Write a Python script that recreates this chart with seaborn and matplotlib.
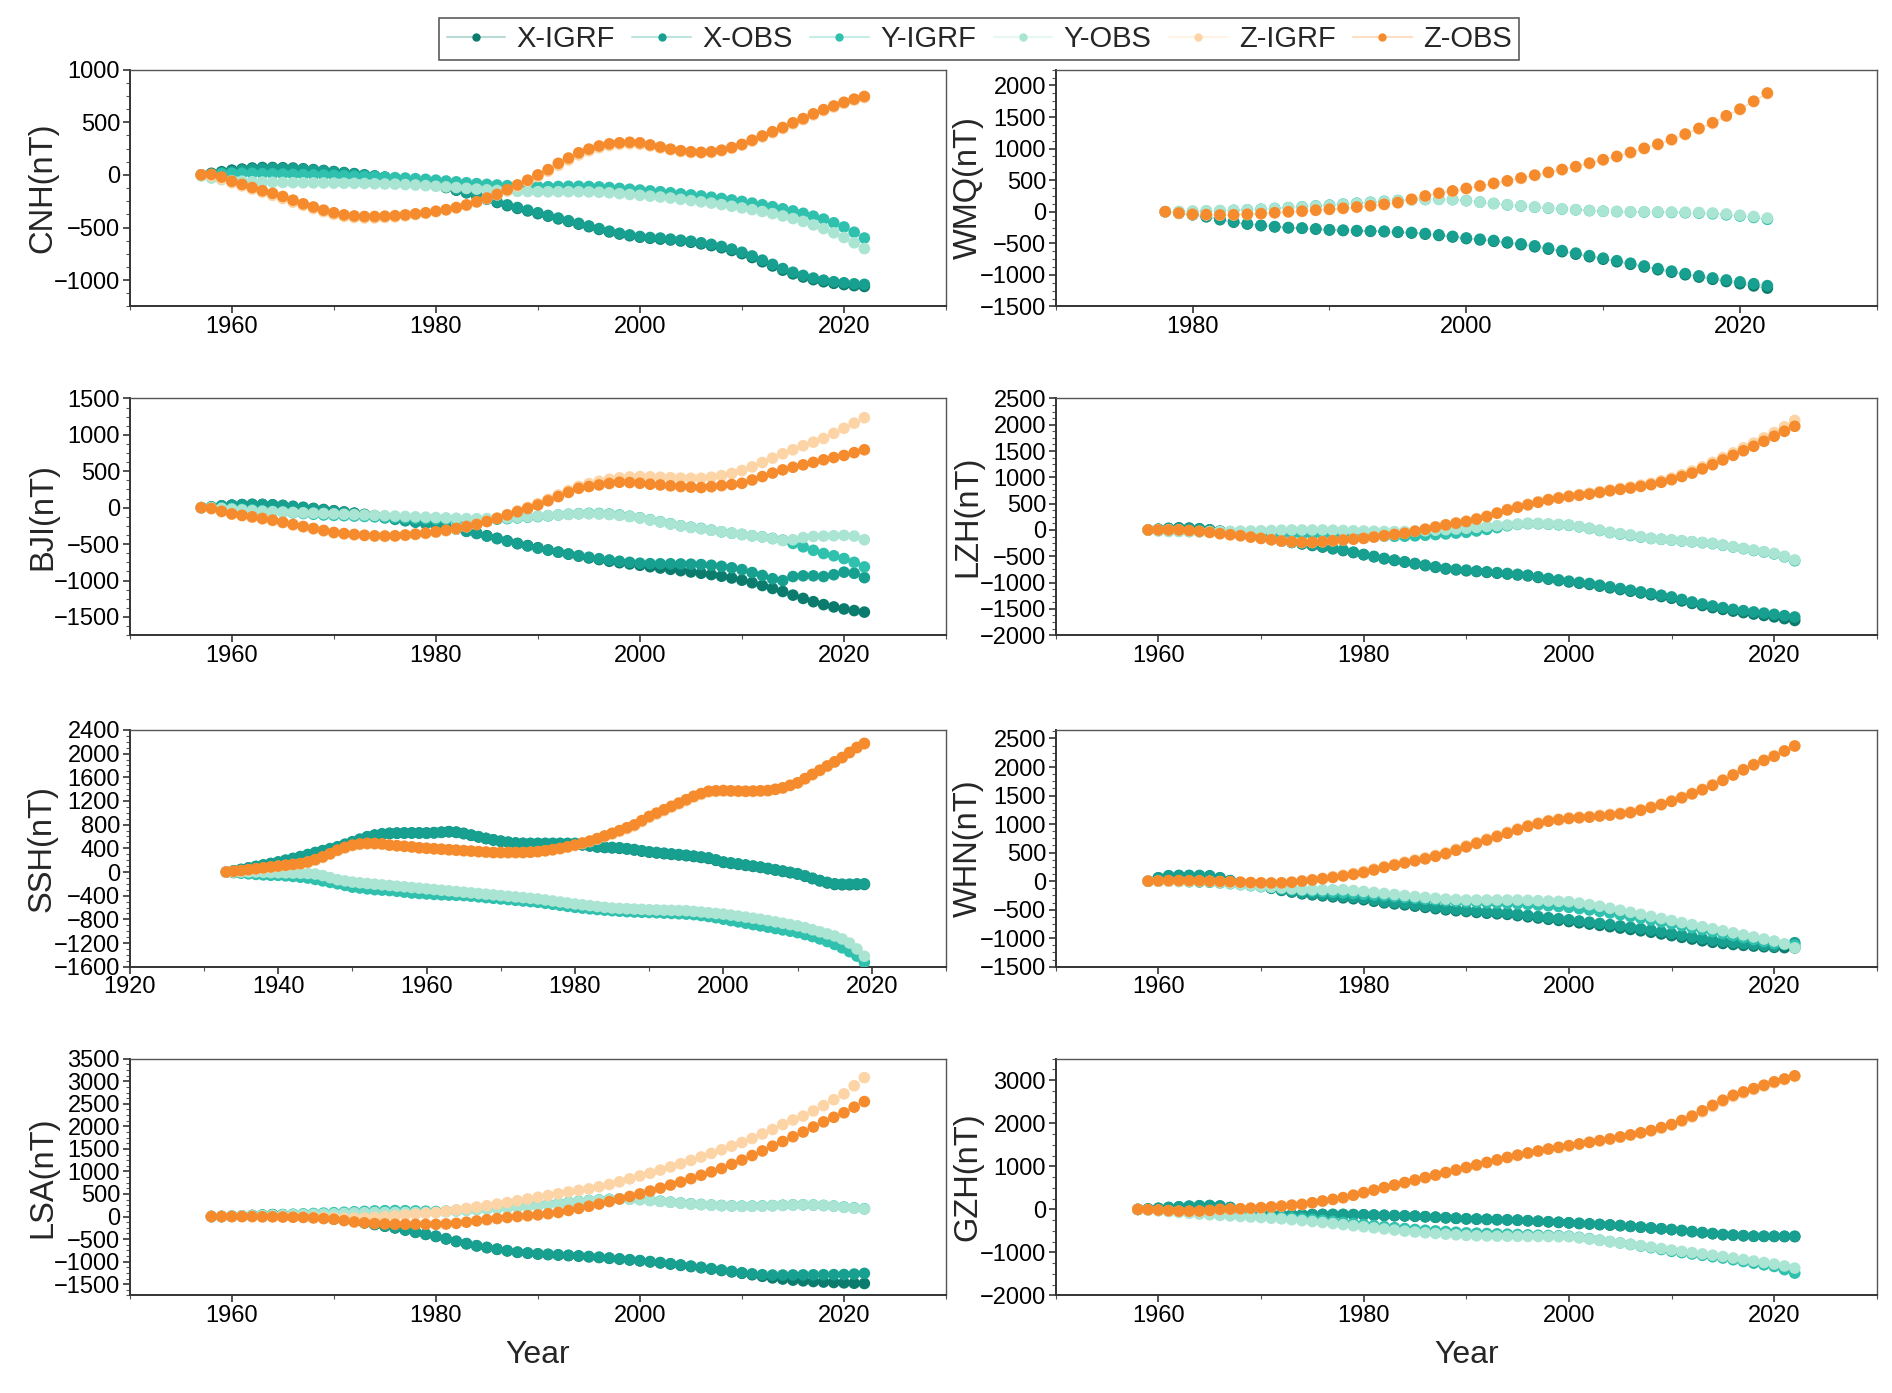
import numpy as np
import pandas as pd
import matplotlib
matplotlib.use("Agg")
import matplotlib.pyplot as plt
import matplotlib.colors as mcolors
from matplotlib.lines import Line2D
from matplotlib.ticker import MultipleLocator, AutoMinorLocator
import seaborn as sns

# ---------------- data ----------------
SERIES = ["X-IGRF", "X-OBS", "Y-IGRF", "Y-OBS", "Z-IGRF", "Z-OBS"]
COLORS = ["#0b7b6d", "#17a08f", "#2fc1ae", "#a9e5d2", "#fdd4a6", "#f58b2c"]
STATIONS = ["CNH", "WMQ", "BJI", "LZH", "SSH", "WHN", "LSA", "GZH"]
START_YEARS = [1957, 1978, 1957, 1959, 1933, 1959, 1958, 1958]

# CNH 1957-2022
CNH_X_IGRF = [0, 15, 30, 45, 55, 65, 70, 70, 68, 65, 58, 50, 42, 32, 22, 12, 0, -10, -22, -35,
              -50, -65, -82, -100, -120, -145, -170, -200, -230, -262, -292, -318, -342, -368, -392, -418, -442, -468, -492, -518,
              -542, -562, -578, -592, -602, -610, -618, -628, -640, -655, -672, -692, -718, -748, -785, -825, -865, -905, -940, -970,
              -995, -1015, -1030, -1042, -1052, -1060]
CNH_X_OBS = [0, 10, 20, 30, 45, 55, 60, 62, 60, 58, 52, 45, 38, 28, 18, 8, -2, -12, -22, -35,
             -48, -62, -78, -95, -115, -140, -165, -195, -225, -255, -285, -310, -335, -360, -385, -410, -435, -460, -485, -510,
             -535, -555, -570, -585, -595, -600, -610, -620, -630, -645, -660, -680, -705, -735, -770, -810, -850, -890, -925, -955,
             -980, -1000, -1015, -1025, -1035, -1040]
CNH_Y_IGRF = [0, 5, 10, 15, 15, 15, 12, 10, 8, 5, 2, 0, -2, -5, -8, -12, -15, -18, -22, -26,
              -30, -36, -42, -50, -58, -66, -75, -83, -90, -96, -102, -106, -110, -112, -112, -110, -108, -108, -110, -114,
              -120, -128, -136, -144, -152, -160, -170, -180, -190, -200, -212, -224, -238, -252, -268, -284, -302, -322, -342, -365,
              -392, -420, -455, -495, -545, -600]
CNH_Y_OBS = [-10, -30, -45, -55, -60, -65, -68, -70, -72, -74, -75, -76, -77, -78, -79, -80, -82, -84, -86, -88,
             -92, -96, -102, -108, -114, -120, -128, -135, -142, -148, -152, -156, -158, -160, -160, -160, -160, -160, -162, -165,
             -170, -178, -186, -194, -202, -210, -220, -232, -244, -256, -268, -282, -298, -314, -330, -348, -368, -390, -415, -442,
             -475, -510, -550, -595, -645, -700]
CNH_Z_IGRF = [0, -10, -40, -75, -105, -135, -165, -195, -225, -260, -290, -320, -350, -375, -395, -405, -410, -410, -405, -400,
              -390, -378, -365, -350, -335, -315, -290, -260, -225, -190, -150, -105, -60, -15, 35, 90, 140, 190, 228, 258,
              278, 290, 295, 290, 275, 255, 238, 222, 212, 208, 212, 228, 252, 282, 320, 360, 400, 440, 485, 525,
              570, 610, 645, 680, 710, 735]
CNH_Z_OBS = [0, 5, -20, -60, -90, -120, -150, -175, -205, -240, -275, -305, -335, -360, -380, -390, -395, -395, -392, -388,
             -380, -370, -360, -345, -330, -310, -285, -255, -220, -185, -140, -95, -50, 0, 50, 110, 160, 210, 245, 275,
             295, 305, 310, 305, 285, 265, 245, 230, 220, 215, 220, 235, 260, 290, 330, 370, 410, 450, 495, 535,
             580, 620, 655, 690, 720, 745]

# WMQ 1978-2022
WMQ_X_IGRF = [0, -25, -50, -80, -125, -165, -195, -220, -240, -255, -262, -276, -290, -298, -305, -310, -316, -326, -338, -355,
              -375, -400, -425, -446, -468, -494, -522, -555, -592, -632, -672, -712, -752, -792, -832, -875, -918, -958, -998, -1035,
              -1070, -1105, -1140, -1175, -1210]
WMQ_X_OBS = [0, -20, -40, -70, -120, -160, -190, -215, -235, -250, -258, -272, -285, -292, -298, -303, -308, -318, -328, -345,
             -365, -390, -415, -435, -455, -480, -508, -540, -575, -615, -655, -695, -735, -775, -815, -858, -900, -940, -980, -1015,
             -1048, -1080, -1110, -1140, -1170]
WMQ_Y_IGRF = [0, 0, 5, 10, 15, 22, 30, 40, 52, 65, 78, 92, 105, 120, 135, 150, 165, 178, 188, 195,
              198, 192, 176, 152, 130, 108, 90, 72, 56, 42, 30, 18, 8, 2, -3, -5, -8, -12, -16, -22,
              -32, -48, -68, -90, -120]
WMQ_Y_OBS = [0, 5, 10, 15, 20, 25, 30, 40, 50, 62, 75, 88, 100, 115, 130, 145, 160, 175, 185, 192,
             195, 190, 175, 150, 130, 110, 92, 75, 60, 45, 32, 20, 10, 5, 0, 0, -2, -5, -8, -12,
             -20, -35, -55, -75, -100]
WMQ_Z_IGRF = [0, -25, -45, -52, -55, -52, -45, -35, -20, -5, 5, 20, 35, 50, 70, 90, 112, 140, 190, 242,
              286, 322, 362, 402, 442, 482, 526, 572, 617, 662, 708, 762, 816, 868, 930, 995, 1060, 1135, 1220, 1310,
              1400, 1510, 1615, 1740, 1870]
WMQ_Z_OBS = [0, -20, -40, -45, -50, -48, -40, -30, -15, 0, 10, 25, 40, 55, 75, 95, 118, 145, 198, 250,
             294, 330, 370, 410, 450, 490, 535, 580, 625, 670, 715, 770, 825, 877, 940, 1005, 1070, 1145, 1230, 1320,
             1410, 1520, 1625, 1750, 1880]

# BJI 1957-2022
BJI_X_IGRF = [0, 10, 25, 35, 42, 45, 44, 40, 30, 18, 5, -10, -25, -42, -58, -75, -92, -110, -130, -150,
              -170, -190, -210, -230, -260, -290, -320, -350, -385, -420, -455, -490, -520, -550, -580, -610, -638, -665, -690, -712,
              -735, -755, -772, -790, -810, -828, -846, -864, -882, -900, -918, -940, -965, -995, -1030, -1068, -1108, -1150, -1200, -1245,
              -1290, -1330, -1362, -1390, -1412, -1433]
BJI_X_OBS = [0, 10, 25, 35, 42, 46, 44, 38, 30, 15, 0, -15, -32, -50, -65, -80, -100, -120, -140, -160,
             -180, -200, -220, -240, -265, -295, -325, -355, -390, -425, -460, -495, -525, -555, -583, -610, -635, -658, -680, -700,
             -718, -735, -750, -762, -768, -770, -770, -772, -775, -780, -790, -805, -825, -850, -890, -930, -975, -1000, -945, -935,
             -935, -945, -920, -885, -900, -960]
BJI_Y_IGRF = [0, 5, 0, -10, -20, -30, -40, -50, -60, -70, -80, -90, -100, -105, -110, -115, -120, -125, -130, -135,
              -140, -145, -150, -155, -160, -165, -170, -170, -165, -158, -150, -140, -130, -122, -112, -100, -90, -82, -78, -80,
              -88, -100, -118, -138, -165, -193, -220, -248, -268, -285, -308, -331, -350, -367, -385, -400, -422, -446, -490, -537,
              -585, -629, -660, -698, -750, -813]
BJI_Y_OBS = [0, 0, -10, -20, -30, -40, -50, -55, -60, -65, -70, -75, -80, -85, -90, -95, -100, -105, -110, -115,
             -120, -125, -130, -135, -140, -145, -150, -152, -150, -145, -140, -132, -124, -116, -108, -100, -92, -86, -84, -86,
             -94, -106, -122, -142, -168, -196, -224, -250, -272, -290, -310, -330, -350, -368, -385, -402, -425, -450, -440, -410,
             -395, -390, -385, -380, -390, -440]
BJI_Z_IGRF = [0, -15, -55, -90, -112, -132, -155, -178, -208, -238, -266, -292, -320, -345, -362, -374, -385, -392, -394, -392,
              -382, -370, -355, -338, -318, -292, -262, -230, -188, -142, -95, -45, 5, 55, 115, 175, 235, 292, 330, 362,
              390, 410, 422, 427, 424, 418, 412, 406, 404, 404, 418, 440, 470, 510, 560, 620, 680, 740, 795, 850,
              900, 950, 1020, 1090, 1160, 1235]
BJI_Z_OBS = [0, -10, -50, -85, -105, -125, -148, -170, -200, -230, -258, -285, -312, -340, -355, -367, -378, -386, -388, -386,
             -375, -363, -348, -331, -310, -285, -258, -230, -190, -147, -100, -55, -10, 37, 95, 152, 210, 266, 290, 312,
             332, 349, 345, 335, 322, 312, 300, 290, 282, 276, 288, 303, 318, 335, 380, 427, 475, 519, 555, 588,
             622, 657, 688, 717, 755, 795]

# LZH 1959-2022
LZH_X_IGRF = [0, 15, 30, 40, 35, 22, 2, -22, -52, -80, -112, -145, -178, -210, -238, -265, -295, -325, -358, -392,
              -430, -472, -510, -548, -580, -612, -645, -678, -710, -742, -758, -775, -790, -806, -822, -838, -855, -872, -902, -935,
              -962, -988, -1012, -1035, -1068, -1100, -1132, -1165, -1198, -1232, -1265, -1298, -1348, -1396, -1436, -1476, -1510, -1542, -1570, -1598,
              -1625, -1652, -1685, -1720]
LZH_X_OBS = [0, 10, 25, 30, 30, 20, 0, -25, -55, -80, -115, -150, -180, -210, -235, -260, -288, -318, -350, -382,
             -422, -465, -502, -540, -572, -604, -636, -668, -700, -732, -748, -763, -780, -795, -811, -827, -843, -859, -890, -922,
             -948, -973, -996, -1018, -1050, -1081, -1113, -1145, -1177, -1209, -1240, -1272, -1320, -1368, -1406, -1444, -1476, -1508, -1533, -1558,
             -1580, -1603, -1628, -1654]
LZH_Y_IGRF = [0, -10, -20, -25, -30, -35, -40, -45, -50, -55, -60, -65, -70, -75, -80, -85, -90, -95, -100, -105,
              -110, -112, -115, -118, -120, -118, -112, -100, -88, -75, -60, -45, -20, 10, 45, 80, 105, 120, 118, 108,
              98, 88, 60, 28, -10, -50, -78, -105, -135, -162, -178, -194, -210, -226, -242, -260, -292, -324, -356, -390,
              -420, -455, -510, -585]
LZH_Y_OBS = [0, -20, -30, -30, -30, -30, -30, -28, -25, -22, -20, -15, -10, -5, 0, 0, 0, 0, -5, -10,
             -15, -20, -25, -30, -32, -30, -25, -15, -5, 5, 18, 32, 50, 68, 82, 95, 110, 127, 125, 115,
             105, 95, 65, 32, -5, -45, -70, -95, -128, -160, -175, -190, -206, -222, -238, -254, -286, -318, -350, -382,
             -412, -445, -500, -570]
LZH_Z_IGRF = [0, 5, 5, 0, -15, -30, -50, -72, -92, -112, -138, -162, -188, -212, -228, -238, -238, -225, -208, -192,
              -176, -160, -136, -110, -86, -62, -22, 18, 60, 100, 135, 168, 214, 264, 328, 390, 442, 490, 538, 585,
              618, 650, 674, 698, 730, 762, 790, 818, 852, 888, 935, 988, 1050, 1120, 1200, 1285, 1375, 1465, 1560, 1650,
              1750, 1850, 1960, 2080]
LZH_Z_OBS = [0, 0, 0, 0, -10, -25, -45, -70, -90, -108, -135, -160, -185, -210, -225, -235, -235, -222, -205, -190,
             -175, -160, -135, -108, -85, -64, -25, 13, 55, 95, 128, 160, 205, 254, 318, 380, 430, 477, 525, 572,
             605, 636, 658, 680, 712, 744, 770, 795, 828, 860, 905, 955, 1015, 1080, 1160, 1240, 1330, 1418, 1505, 1590,
             1685, 1780, 1875, 1970]

# SSH 1933-2019
SSH_X_IGRF = [0, 18, 40, 65, 90, 115, 140, 165, 195, 225, 255, 288, 322, 355, 388, 420, 462, 505, 548, 590,
              620, 640, 650, 655, 658, 660, 660, 660, 665, 672, 680, 670, 648, 620, 592, 565, 540, 518, 500, 488,
              482, 480, 480, 480, 480, 480, 478, 475, 458, 440, 422, 414, 408, 400, 388, 372, 352, 335, 322, 310,
              298, 288, 276, 262, 246, 230, 198, 162, 146, 130, 112, 95, 78, 55, 32, 10, -12, -35, -72, -112,
              -150, -185, -210, -215, -215, -212, -210]
SSH_X_OBS = [0, 20, 45, 70, 95, 120, 145, 170, 200, 230, 262, 296, 330, 362, 395, 427, 470, 512, 555, 597,
             625, 645, 654, 658, 660, 660, 658, 654, 660, 670, 683, 675, 654, 625, 597, 569, 545, 523, 505, 490,
             484, 484, 484, 484, 484, 484, 484, 484, 465, 445, 427, 420, 415, 410, 395, 380, 360, 341, 330, 318,
             306, 295, 284, 270, 255, 240, 205, 170, 155, 138, 120, 102, 85, 62, 40, 18, -5, -28, -65, -105,
             -142, -175, -199, -205, -205, -200, -199]
SSH_Y_IGRF = [0, -10, -20, -30, -40, -48, -55, -57, -65, -75, -88, -102, -125, -150, -175, -199, -225, -256, -270, -285,
              -298, -306, -313, -325, -340, -355, -362, -370, -378, -385, -390, -394, -398, -408, -420, -432, -444, -455, -466, -478,
              -490, -500, -512, -528, -545, -562, -580, -597, -610, -622, -634, -644, -654, -662, -670, -676, -680, -683, -688, -694,
              -700, -705, -711, -720, -735, -752, -772, -797, -820, -842, -865, -888, -910, -932, -955, -978, -1000, -1024, -1055, -1090,
              -1130, -1175, -1223, -1280, -1345, -1420, -1525]
SSH_Y_OBS = [0, 0, 0, 0, 0, -5, -10, -12, -15, -18, -20, -25, -35, -60, -95, -130, -150, -170, -182, -194,
             -206, -217, -228, -240, -250, -262, -273, -284, -296, -307, -318, -330, -341, -352, -364, -375, -386, -398, -410, -421,
             -432, -444, -455, -472, -489, -506, -523, -540, -554, -568, -582, -596, -609, -615, -620, -626, -631, -637, -641, -645,
             -648, -651, -654, -665, -676, -688, -700, -711, -728, -745, -762, -780, -797, -820, -842, -865, -888, -910, -940, -975,
             -1010, -1045, -1081, -1130, -1200, -1300, -1423]
SSH_Z_IGRF = [0, 8, 20, 35, 50, 65, 80, 95, 110, 125, 140, 165, 200, 245, 300, 360, 405, 445, 465, 475,
              475, 468, 450, 440, 430, 420, 405, 396, 388, 380, 372, 364, 356, 348, 340, 332, 325, 324, 324, 325,
              326, 332, 342, 356, 372, 392, 418, 448, 482, 515, 555, 598, 640, 686, 732, 780, 850, 920, 978, 1035,
              1092, 1148, 1205, 1262, 1310, 1350, 1360, 1365, 1362, 1360, 1358, 1360, 1364, 1370, 1390, 1415, 1458, 1500, 1570, 1640,
              1712, 1785, 1855, 1928, 2012, 2095, 2160]
SSH_Z_OBS = [0, 12, 25, 40, 55, 70, 85, 100, 114, 128, 142, 170, 210, 256, 310, 370, 415, 455, 475, 484,
             482, 475, 455, 445, 435, 425, 410, 402, 394, 386, 378, 370, 362, 354, 346, 338, 330, 330, 330, 330,
             330, 335, 345, 360, 378, 398, 425, 455, 490, 523, 565, 610, 654, 700, 748, 796, 868, 939, 995, 1052,
             1110, 1165, 1222, 1280, 1325, 1365, 1372, 1377, 1372, 1368, 1365, 1368, 1372, 1377, 1398, 1422, 1465, 1507, 1578, 1650,
             1720, 1792, 1862, 1934, 2020, 2105, 2173]

# WHN 1959-2022
WHN_X_IGRF = [0, 55, 90, 95, 95, 92, 85, 55, 5, -35, -62, -88, -125, -162, -192, -222, -240, -258, -275, -292,
              -308, -325, -352, -380, -398, -415, -438, -460, -482, -502, -518, -532, -548, -562, -572, -582, -604, -625, -646, -668,
              -688, -708, -730, -752, -775, -798, -822, -846, -870, -895, -925, -955, -985, -1015, -1045, -1072, -1092, -1110, -1125, -1138,
              -1150, -1160, -1165, -1170]
WHN_X_OBS = [0, 60, 95, 100, 100, 100, 95, 60, 10, -30, -55, -78, -115, -150, -180, -210, -225, -240, -255, -270,
             -285, -300, -330, -360, -375, -390, -414, -438, -460, -480, -495, -510, -525, -540, -549, -558, -580, -600, -620, -641,
             -659, -677, -698, -719, -740, -761, -785, -809, -833, -857, -887, -917, -947, -977, -1007, -1037, -1058, -1079, -1094, -1109,
             -1124, -1139, -1110, -1079]
WHN_Y_IGRF = [0, 0, 0, -5, -10, -15, -20, -30, -45, -62, -80, -98, -115, -132, -150, -165, -175, -185, -195, -205,
              -215, -228, -242, -256, -270, -285, -300, -315, -330, -345, -355, -365, -372, -378, -384, -390, -398, -408, -420, -432,
              -445, -460, -482, -505, -530, -558, -588, -618, -650, -682, -715, -748, -782, -816, -850, -885, -920, -955, -990, -1025,
              -1058, -1090, -1110, -1120]
WHN_Y_OBS = [0, 0, 0, 0, 0, 0, -5, -20, -40, -60, -75, -90, -105, -120, -135, -150, -150, -150, -150, -150,
             -165, -180, -198, -216, -234, -252, -270, -285, -300, -315, -322, -330, -330, -330, -330, -330, -330, -336, -342, -348,
             -354, -360, -385, -412, -440, -475, -510, -546, -582, -618, -654, -690, -726, -762, -798, -834, -870, -906, -942, -978,
             -1014, -1049, -1100, -1169]
WHN_Z_IGRF = [0, 0, 0, 0, 0, 0, -5, -10, -15, -22, -28, -32, -32, -28, -15, 5, 28, 52, 78, 105,
              135, 168, 212, 255, 295, 334, 372, 408, 452, 498, 558, 618, 678, 738, 798, 858, 918, 975, 1020, 1062,
              1088, 1110, 1124, 1136, 1155, 1172, 1192, 1215, 1255, 1302, 1352, 1410, 1472, 1540, 1612, 1690, 1775, 1868, 1958, 2045,
              2120, 2195, 2285, 2372]
WHN_Z_OBS = [0, 5, 10, 10, 8, 5, 0, -5, -10, -18, -25, -30, -32, -30, -20, 0, 20, 42, 65, 90,
             118, 150, 195, 240, 280, 318, 355, 390, 435, 480, 540, 600, 660, 720, 780, 840, 900, 960, 1005, 1050,
             1075, 1097, 1110, 1121, 1140, 1157, 1178, 1199, 1240, 1289, 1340, 1397, 1460, 1529, 1600, 1679, 1765, 1859, 1950, 2038,
             2115, 2188, 2280, 2368]

# LSA 1958-2022
LSA_X_IGRF = [0, 0, 5, 12, 22, 32, 42, 38, 28, 12, -5, -25, -52, -75, -100, -138, -176, -214, -252, -300,
              -350, -396, -442, -497, -554, -605, -652, -690, -727, -762, -794, -813, -832, -843, -854, -866, -878, -893, -908, -926,
              -945, -964, -984, -1006, -1029, -1055, -1082, -1109, -1136, -1166, -1196, -1227, -1258, -1290, -1325, -1360, -1385, -1409, -1425, -1440,
              -1452, -1462, -1470, -1478, -1484]
LSA_X_OBS = [0, 0, 5, 10, 20, 30, 40, 35, 25, 10, -5, -25, -50, -72, -97, -135, -172, -210, -247, -295,
             -345, -390, -435, -490, -547, -598, -645, -683, -720, -755, -787, -806, -825, -836, -847, -858, -870, -885, -900, -918,
             -937, -956, -975, -997, -1019, -1045, -1072, -1098, -1124, -1154, -1184, -1214, -1244, -1270, -1290, -1297, -1297, -1295, -1293, -1292,
             -1290, -1288, -1285, -1275, -1260]
LSA_Y_IGRF = [0, 5, 10, 15, 22, 30, 38, 45, 52, 60, 68, 76, 85, 95, 105, 115, 125, 130, 132, 130,
              125, 118, 112, 120, 132, 145, 160, 175, 190, 205, 220, 236, 252, 272, 292, 314, 336, 356, 370, 382,
              392, 388, 378, 360, 340, 320, 300, 282, 268, 255, 244, 236, 230, 232, 236, 242, 250, 258, 260, 256,
              246, 232, 210, 192, 172]
LSA_Y_OBS = [0, 5, 10, 15, 20, 25, 30, 35, 40, 45, 50, 55, 60, 70, 80, 85, 90, 90, 90, 90,
             90, 90, 90, 105, 120, 135, 150, 165, 180, 195, 210, 225, 240, 262, 285, 308, 330, 352, 366, 378,
             390, 385, 375, 355, 335, 315, 296, 277, 265, 252, 240, 232, 225, 228, 232, 238, 245, 255, 258, 255,
             245, 230, 202, 185, 165]
LSA_Z_IGRF = [0, 0, 0, 0, 0, -5, -5, -8, -12, -15, -20, -25, -30, -35, -35, -30, -20, -5, 15, 35,
              55, 72, 90, 118, 150, 180, 210, 240, 275, 310, 350, 390, 427, 465, 505, 545, 580, 614, 660, 710,
              770, 835, 900, 960, 1030, 1100, 1170, 1245, 1320, 1400, 1480, 1560, 1640, 1730, 1830, 1930, 2040, 2140, 2226, 2340,
              2460, 2590, 2720, 2900, 3080]
LSA_Z_OBS = [0, 0, 0, 0, 0, -5, -5, -10, -15, -20, -30, -45, -60, -90, -120, -140, -157, -165, -172, -172,
             -172, -172, -172, -165, -150, -125, -97, -70, -45, -22, 0, 18, 37, 62, 90, 135, 180, 228, 277, 332,
             390, 445, 502, 565, 630, 698, 765, 840, 915, 990, 1064, 1158, 1252, 1352, 1454, 1560, 1664, 1770, 1874, 1985,
             2099, 2200, 2301, 2425, 2549]

# GZH 1958-2022
GZH_X_IGRF = [0, 8, 22, 40, 55, 70, 80, 85, 75, 40, -5, -45, -82, -102, -120, -123, -124, -122, -121, -121,
              -121, -124, -129, -135, -141, -147, -153, -159, -172, -184, -197, -209, -222, -228, -234, -241, -247, -253, -266, -278,
              -290, -303, -315, -328, -340, -353, -365, -378, -396, -415, -434, -452, -471, -494, -518, -542, -565, -588, -601, -614,
              -625, -628, -630, -632, -633]
GZH_X_OBS = [0, 10, 25, 45, 60, 75, 85, 90, 80, 45, 0, -40, -78, -98, -117, -120, -120, -118, -117, -117,
             -117, -120, -125, -131, -137, -143, -149, -155, -168, -180, -193, -205, -218, -224, -230, -237, -243, -249, -262, -274,
             -286, -299, -311, -324, -336, -349, -361, -374, -392, -411, -430, -448, -467, -490, -514, -538, -561, -584, -597, -610,
             -623, -623, -623, -623, -623]
GZH_Y_IGRF = [0, -10, -25, -40, -55, -70, -85, -100, -110, -120, -135, -145, -155, -170, -185, -200, -215, -233, -255, -280,
              -305, -328, -350, -375, -400, -423, -445, -467, -485, -500, -515, -530, -545, -553, -561, -569, -576, -584, -592, -600,
              -608, -615, -623, -650, -680, -715, -748, -779, -815, -852, -890, -932, -974, -1005, -1036, -1067, -1099, -1130, -1170, -1210,
              -1250, -1288, -1325, -1400, -1481]
GZH_Y_OBS = [0, -10, -30, -50, -70, -90, -110, -125, -140, -152, -165, -178, -190, -205, -220, -240, -260, -282, -305, -330,
             -355, -380, -405, -430, -455, -480, -505, -525, -545, -560, -575, -590, -605, -612, -618, -622, -625, -627, -628, -630,
             -632, -634, -636, -660, -690, -720, -750, -780, -810, -842, -875, -910, -945, -975, -1005, -1035, -1065, -1095, -1130, -1165,
             -1200, -1235, -1270, -1315, -1364]
GZH_Z_IGRF = [0, -8, -20, -32, -45, -48, -45, -30, -5, 3, 10, 22, 34, 52, 72, 92, 110, 148, 188, 226,
              265, 322, 382, 440, 498, 556, 614, 673, 731, 789, 848, 906, 965, 1023, 1082, 1141, 1199, 1250, 1300, 1346,
              1393, 1432, 1471, 1510, 1549, 1588, 1627, 1674, 1721, 1770, 1820, 1885, 1955, 2045, 2145, 2265, 2390, 2508, 2622, 2702,
              2782, 2862, 2942, 3012, 3088]
GZH_Z_OBS = [0, -5, -15, -28, -40, -42, -40, -25, 0, 8, 15, 28, 40, 58, 78, 98, 117, 155, 195, 234,
             273, 330, 390, 448, 507, 565, 623, 682, 740, 798, 857, 915, 974, 1032, 1091, 1150, 1208, 1260, 1310, 1356,
             1403, 1442, 1481, 1520, 1559, 1598, 1637, 1684, 1731, 1780, 1832, 1900, 1972, 2065, 2167, 2290, 2416, 2535, 2650, 2728,
             2806, 2884, 2962, 3030, 3102]

# axis settings per station (same order as STATIONS)
XLIMS = [(1950, 2030), (1970, 2030), (1950, 2030), (1950, 2030), (1920, 2030), (1950, 2030), (1950, 2030), (1950, 2030)]
XTICK_START = [1960, 1980, 1960, 1960, 1920, 1960, 1960, 1960]
YLIMS = [(-1250, 1000), (-1500, 2250), (-1750, 1500), (-2000, 2500), (-1600, 2400), (-1500, 2650), (-1750, 3500), (-2000, 3500)]
YSTEPS = [500, 500, 500, 500, 400, 500, 500, 1000]
YTICK_MAX = [1000, 2000, 1500, 2500, 2400, 2500, 3500, 3000]
YTICK_MIN = [-1000, -1500, -1500, -2000, -1600, -1500, -1500, -2000]

# ---------------- build long table ----------------
station_series = {
    "CNH": [CNH_X_IGRF, CNH_X_OBS, CNH_Y_IGRF, CNH_Y_OBS, CNH_Z_IGRF, CNH_Z_OBS],
    "WMQ": [WMQ_X_IGRF, WMQ_X_OBS, WMQ_Y_IGRF, WMQ_Y_OBS, WMQ_Z_IGRF, WMQ_Z_OBS],
    "BJI": [BJI_X_IGRF, BJI_X_OBS, BJI_Y_IGRF, BJI_Y_OBS, BJI_Z_IGRF, BJI_Z_OBS],
    "LZH": [LZH_X_IGRF, LZH_X_OBS, LZH_Y_IGRF, LZH_Y_OBS, LZH_Z_IGRF, LZH_Z_OBS],
    "SSH": [SSH_X_IGRF, SSH_X_OBS, SSH_Y_IGRF, SSH_Y_OBS, SSH_Z_IGRF, SSH_Z_OBS],
    "WHN": [WHN_X_IGRF, WHN_X_OBS, WHN_Y_IGRF, WHN_Y_OBS, WHN_Z_IGRF, WHN_Z_OBS],
    "LSA": [LSA_X_IGRF, LSA_X_OBS, LSA_Y_IGRF, LSA_Y_OBS, LSA_Z_IGRF, LSA_Z_OBS],
    "GZH": [GZH_X_IGRF, GZH_X_OBS, GZH_Y_IGRF, GZH_Y_OBS, GZH_Z_IGRF, GZH_Z_OBS],
}
rows = []
for st, start in zip(STATIONS, START_YEARS):
    for name, vals in zip(SERIES, station_series[st]):
        for i, v in enumerate(vals):
            rows.append((st, name, start + i, v))
df = pd.DataFrame(rows, columns=["station", "series", "year", "value"])


def lighten(c, f):
    r, g, b = mcolors.to_rgb(c)
    return (r + (1 - r) * f, g + (1 - g) * f, b + (1 - b) * f)


LINE_COLORS = [lighten(c, 0.72) for c in COLORS]

# ---------------- figure ----------------
sns.set_style("ticks")
plt.rcParams["font.family"] = ["Liberation Sans", "DejaVu Sans"]
plt.rcParams["axes.linewidth"] = 1.3

fig = plt.figure(figsize=(18.92, 13.93), dpi=100)

col_left = [0.0686, 0.558]
col_width = [0.4314, 0.434]
row_bottom = [0.780, 0.544, 0.306, 0.070]
row_height = 0.170

for k, st in enumerate(STATIONS):
    r, c = divmod(k, 2)
    ax = fig.add_axes([col_left[c], row_bottom[r], col_width[c], row_height])
    sub = df[df.station == st]
    sns.lineplot(data=sub, x="year", y="value", hue="series", hue_order=SERIES,
                 palette=LINE_COLORS, linewidth=1.0, legend=False, ax=ax,
                 estimator=None, zorder=1)
    sns.scatterplot(data=sub, x="year", y="value", hue="series", hue_order=SERIES,
                    palette=COLORS, s=70, linewidth=0, legend=False, ax=ax, zorder=3)
    ax.set_xlim(*XLIMS[k])
    ax.set_ylim(*YLIMS[k])
    ax.set_xticks(np.arange(XTICK_START[k], 2021, 20))
    ax.xaxis.set_minor_locator(MultipleLocator(10))
    ax.set_yticks(np.arange(YTICK_MIN[k], YTICK_MAX[k] + 1, YSTEPS[k]))
    ax.yaxis.set_minor_locator(AutoMinorLocator(4))
    ax.tick_params(axis="both", which="major", direction="out", length=5, width=1.1,
                   labelsize=17, pad=2, colors="#222222", labelcolor="black")
    ax.tick_params(axis="both", which="minor", direction="out", length=3, width=0.8,
                   colors="#555555")
    for s in ["top", "right"]:
        ax.spines[s].set_color("#555555")
        ax.spines[s].set_linewidth(1.0)
    for s in ["left", "bottom"]:
        ax.spines[s].set_color("#333333")
        ax.spines[s].set_linewidth(1.4)
    ax.set_ylabel(f"{st}(nT)", fontsize=23.5, labelpad=0)
    ax.yaxis.set_label_coords(-0.088, 0.5)
    if r == 3:
        ax.set_xlabel("Year", fontsize=23)
        ax.xaxis.set_label_coords(0.5, -0.19)
    else:
        ax.set_xlabel("")

handles = [Line2D([], [], color=lc, lw=1.5, marker="o", markersize=5,
                  markerfacecolor=c, markeredgecolor=c)
           for c, lc in zip(COLORS, LINE_COLORS)]
leg = fig.legend(handles, SERIES, loc="center", bbox_to_anchor=(0.5176, 0.972), ncol=6,
                 frameon=True, fancybox=False, fontsize=21, handlelength=2.0,
                 handletextpad=0.4, columnspacing=0.6, borderpad=0.25)
leg.get_frame().set_edgecolor("#333333")
leg.get_frame().set_linewidth(1.2)

fig.savefig("out.png", dpi=100)
